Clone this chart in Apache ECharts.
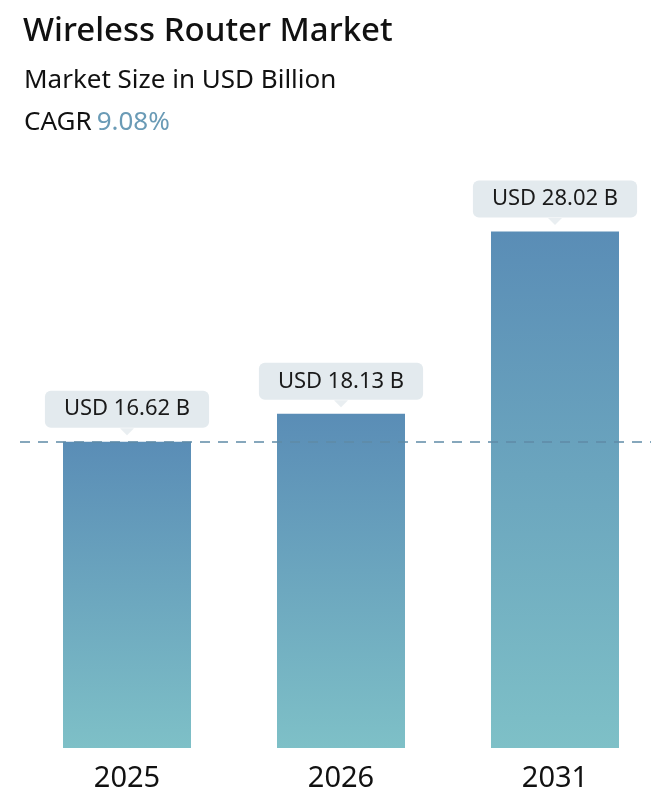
<!DOCTYPE html>
<html><head><meta charset="utf-8">
<script src="https://cdn.jsdelivr.net/npm/echarts@6/dist/echarts.min.js"></script>
<style>html,body{margin:0;padding:0;background:#fff}#c{width:651px;height:805px}</style>
</head><body><div id="c"></div>
<script>
const categories = ['2025', '2026', '2031'];
const values = [16.62, 18.13, 28.02];
const labelTexts = ['USD 16.62 B', 'USD 18.13 B', 'USD 28.02 B'];
const titleText = 'Wireless Router Market';
const subtitleText = 'Market Size in USD Billion';
const cagrText = '9.08%';

const chart = echarts.init(document.getElementById('c'), null, {renderer: 'canvas'});
const FONT = 'Noto Sans';
chart.setOption({
  animation: false,
  title: [
    {text: titleText, left: 18, top: 10, textStyle: {fontFamily: FONT, fontSize: 33, fontWeight: 500, color: '#111'}},
    {text: subtitleText, left: 19, top: 63, textStyle: {fontFamily: FONT, fontSize: 26, fontWeight: 'normal', color: '#111'}},
    {text: '{a|CAGR} {b|' + cagrText + '}', left: 19, top: 105, textStyle: {fontWeight: 'normal', rich: {
      a: {fontFamily: FONT, fontSize: 26, fontWeight: 'normal', color: '#111'},
      b: {fontFamily: FONT, fontSize: 26, fontWeight: 'normal', color: '#6a9bb6'}
    }}}
  ],
  grid: {left: 20, right: -11, top: 195, bottom: 57, outerBoundsMode: 'none', containLabel: false},
  xAxis: {
    type: 'category', data: categories,
    axisLine: {show: false}, axisTick: {show: false},
    axisLabel: {fontFamily: 'Noto Sans', fontSize: 29, color: '#111', margin: 16}
  },
  yAxis: {type: 'value', min: 0, max: 30, show: false, splitLine: {show: false}},
  series: [
    {
      type: 'bar', barWidth: 128,
      data: values,
      itemStyle: {color: new echarts.graphic.LinearGradient(0, 0, 0, 1, [
        {offset: 0, color: '#5a8db6'}, {offset: 1, color: '#7ec0c7'}
      ])},
      label: {
        show: true, position: 'top', distance: 14,
        formatter: p => labelTexts[p.dataIndex],
        fontFamily: 'Noto Sans', fontSize: 22, color: '#1a1a1a',
        backgroundColor: '#e3eaee', borderRadius: 6, padding: [6, 19, 6, 19], lineHeight: 25
      },
      markLine: {
        silent: true, symbol: 'none', label: {show: false},
        lineStyle: {type: [10, 8], color: '#5f8ba6', width: 1.5},
        data: [{yAxis: values[0]}]
      },
      z: 2
    },
    {
      type: 'scatter', data: values,
      symbol: 'triangle', symbolRotate: 180, symbolSize: [14, 7], symbolOffset: [0, -10],
      itemStyle: {color: '#e3eaee'}, z: 3, silent: true
    }
  ]
});
</script></body></html>
